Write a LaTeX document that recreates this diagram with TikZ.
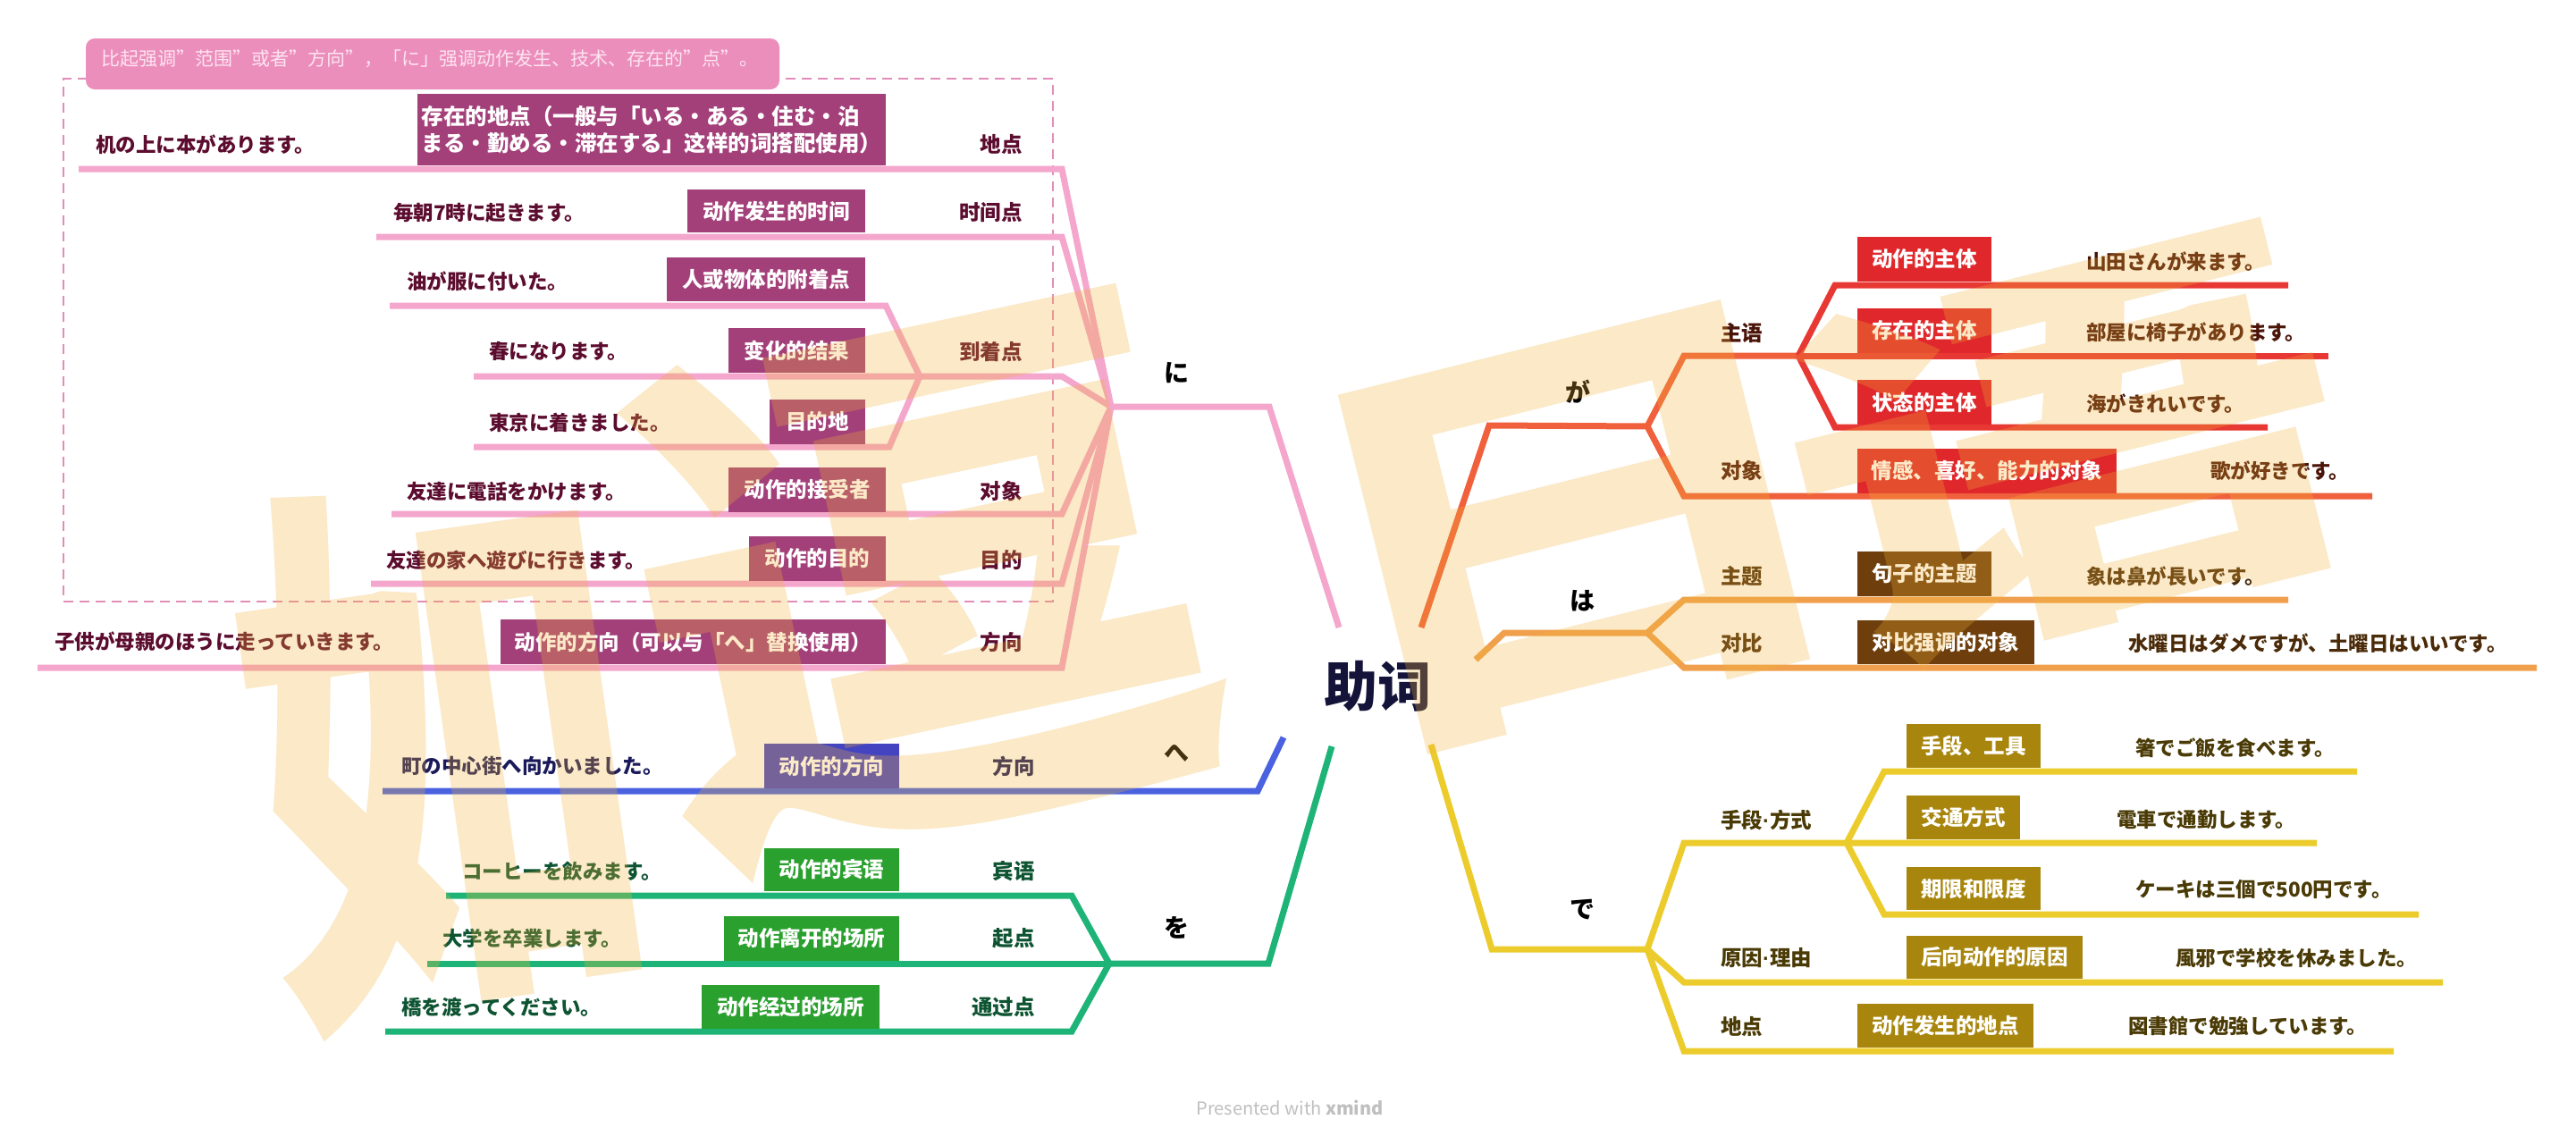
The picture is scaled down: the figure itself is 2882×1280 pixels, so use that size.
\documentclass[tikz,border=0pt]{standalone}
\usepackage{fontspec}
\setmainfont{Noto Sans CJK SC}
\newfontfamily\latinf{Liberation Sans}
\usetikzlibrary{fit}
\definecolor{niline}{RGB}{244,166,204}
\definecolor{nibox}{RGB}{163,64,122}
\definecolor{nitext}{RGB}{92,12,46}
\definecolor{nidash}{RGB}{226,140,184}
\definecolor{nicall}{RGB}{236,142,188}
\definecolor{nicalltext}{RGB}{252,228,240}
\definecolor{heline}{RGB}{74,98,224}
\definecolor{hebox}{RGB}{68,68,192}
\definecolor{hetext}{RGB}{26,26,90}
\definecolor{woline}{RGB}{30,180,120}
\definecolor{wobox}{RGB}{42,160,46}
\definecolor{wotext}{RGB}{14,84,50}
\definecolor{galine}{RGB}{240,96,60}
\definecolor{garow}{RGB}{232,56,52}
\definecolor{gabox}{RGB}{224,40,44}
\definecolor{gatext}{RGB}{74,20,8}
\definecolor{haline}{RGB}{240,160,76}
\definecolor{habox}{RGB}{110,62,12}
\definecolor{hatext}{RGB}{74,42,8}
\definecolor{deline}{RGB}{236,204,44}
\definecolor{debox}{RGB}{168,134,14}
\definecolor{detext}{RGB}{74,58,5}
\definecolor{wmc}{RGB}{241,178,55}
\definecolor{topicc}{RGB}{20,20,58}
\tikzset{
  rowline/.style={line width=7pt, line join=miter, draw=#1},
  bx/.style={fill=#1, inner sep=0pt, text=white, font=\bfseries\fontsize{23.5}{28}\selectfont},
  ex/.style={anchor=west, inner sep=0pt, text=#1, font=\bfseries\fontsize{22.5}{27}\selectfont},
  labl/.style={anchor=east, inner sep=0pt, text=#1, font=\bfseries\fontsize{23.5}{28}\selectfont},
  labr/.style={anchor=west, inner sep=0pt, text=#1, font=\bfseries\fontsize{23.5}{28}\selectfont},
  part/.style={inner sep=0pt, text=black, font=\bfseries\fontsize{28}{32}\selectfont},
  wmk/.style={inner sep=0pt, text=wmc, opacity=0.28, font=\bfseries\fontsize{#1}{#1}\selectfont},
}
% \mybox{name}{colour}{x1}{y1}{x2}{y2}{text}
\newcommand\mybox[7]{\node[bx=#2, minimum width={(#5-#3)*1pt}, minimum height={(#6-#4)*1pt}] (#1) at ({(#3+#5)/2},{(#4+#6)/2}) {#7};}
\newcommand\mdot{{\latinf\bfseries ·}}
\begin{document}
\begin{tikzpicture}[x=1pt,y=-1pt]
\useasboundingbox (0,0) rectangle (2882,1280);
\fill[white] (0,0) rectangle (2882,1280);

% ---------- central topic
\node[inner sep=0pt, text=topicc, font=\bfseries\fontsize{60}{64}\selectfont] (center) at (1541,768) {助词};

% ---------- に branch
\coordinate (Jni) at (1243,455);
\coordinate (niE) at (1420,455);
\coordinate (niS) at (1498,702);
\draw[rowline=niline] (niS) -- (niE) -- (Jni);
\node[part] (ni) at (1316,417) {に};

\node[draw=nidash, line width=2pt, dash pattern=on 11pt off 7pt, inner sep=0pt, fit={(71,88) (1178,673)}] (nigroup) {};
\fill[nicall, rounded corners=10pt] (96,43) rectangle (872,100);
\fill[nicall] (96,70) rectangle (872,89);
\node[anchor=west, inner sep=0pt, text=nicalltext, font=\fontsize{21}{25}\selectfont] (callout) at (113,66) {比起强调”范围”或者”方向”，「に」强调动作发生、技术、存在的”点”。};

% row 1
\coordinate (r1L) at (88,189); \coordinate (r1R) at (1188,189);
\draw[rowline=niline] (r1L) -- (r1R) -- (Jni);
\node[bx=nibox, minimum width=524pt, minimum height=80pt, align=left, font=\bfseries\fontsize{24.5}{30}\selectfont] (r1b) at (729,145) {存在的地点（一般与「いる・ある・住む・泊\\まる・勤める・滞在する」这样的词搭配使用）};
\node[ex=nitext] (r1e) at (107,162) {机の上に本があります。};
\node[labl=nitext] (r1l) at (1144,162) {地点};
% row 2
\coordinate (r2L) at (421,265); \coordinate (r2R) at (1188,265);
\draw[rowline=niline] (r2L) -- (r2R) -- (Jni);
\mybox{r2b}{nibox}{769}{212}{968}{260}{动作发生的时间}
\node[ex=nitext] (r2e) at (440,238) {毎朝7時に起きます。};
\node[labl=nitext] (r2l) at (1144,238) {时间点};
% row 3 (到着点)
\coordinate (r3L) at (530,421); \coordinate (r3R) at (1188,421); \coordinate (JD) at (1029,421);
\draw[rowline=niline] (r3L) -- (r3R) -- (Jni);
\mybox{r3b}{nibox}{815}{367}{968}{417}{变化的结果}
\node[ex=nitext] (r3e) at (547,393) {春になります。};
\node[labl=nitext] (r3l) at (1144,393) {到着点};
\coordinate (r3aL) at (436,342); \coordinate (r3aR) at (991,342);
\draw[rowline=niline] (r3aL) -- (r3aR) -- (JD);
\mybox{r3ab}{nibox}{746}{288}{968}{337}{人或物体的附着点}
\node[ex=nitext] (r3ae) at (455,315) {油が服に付いた。};
\coordinate (r3cL) at (530,500); \coordinate (r3cR) at (995,500);
\draw[rowline=niline] (r3cL) -- (r3cR) -- (JD);
\mybox{r3cb}{nibox}{861}{447}{968}{497}{目的地}
\node[ex=nitext] (r3ce) at (547,473) {東京に着きました。};
% row 4
\coordinate (r4L) at (438,575); \coordinate (r4R) at (1188,575);
\draw[rowline=niline] (r4L) -- (r4R) -- (Jni);
\mybox{r4b}{nibox}{815}{523}{991}{573}{动作的接受者}
\node[ex=nitext] (r4e) at (455,550) {友達に電話をかけます。};
\node[labl=nitext] (r4l) at (1144,550) {对象};
% row 5
\coordinate (r5L) at (415,653); \coordinate (r5R) at (1188,653);
\draw[rowline=niline] (r5L) -- (r5R) -- (Jni);
\mybox{r5b}{nibox}{838}{600}{991}{650}{动作的目的}
\node[ex=nitext] (r5e) at (432,627) {友達の家へ遊びに行きます。};
\node[labl=nitext] (r5l) at (1144,627) {目的};
% row 6
\coordinate (r6L) at (42,747); \coordinate (r6R) at (1188,747);
\draw[rowline=niline] (r6L) -- (r6R) -- (Jni);
\mybox{r6b}{nibox}{560}{693}{991}{743}{动作的方向（可以与「へ」替换使用）}
\node[ex=nitext] (r6e) at (61,718) {子供が母親のほうに走っていきます。};
\node[labl=nitext] (r6l) at (1144,718) {方向};

% ---------- へ branch
\coordinate (heS) at (1436,825); \coordinate (heE) at (1407,885); \coordinate (heL) at (428,885);
\draw[rowline=heline] (heS) -- (heE) -- (heL);
\node[part] (he) at (1316,843) {へ};
\mybox{hb}{hebox}{855}{832}{1006}{882}{动作的方向}
\node[ex=hetext] (hex) at (449,857) {町の中心街へ向かいました。};
\node[labl=hetext] (hl) at (1158,857) {方向};

% ---------- を branch
\coordinate (woS) at (1490,835); \coordinate (woE) at (1419,1078); \coordinate (Jwo) at (1241,1078);
\draw[rowline=woline] (woS) -- (woE) -- (Jwo);
\node[part] (wo) at (1316,1038) {を};
\coordinate (w1L) at (499,1002); \coordinate (w1R) at (1199,1002);
\draw[rowline=woline] (w1L) -- (w1R) -- (Jwo);
\mybox{w1b}{wobox}{855}{949}{1006}{997}{动作的宾语}
\node[ex=wotext] (w1e) at (517,975) {コーヒーを飲みます。};
\node[labl=wotext] (w1l) at (1158,975) {宾语};
\coordinate (w2L) at (478,1078);
\draw[rowline=woline] (w2L) -- (Jwo);
\mybox{w2b}{wobox}{810}{1025}{1006}{1075}{动作离开的场所}
\node[ex=wotext] (w2e) at (495,1050) {大学を卒業します。};
\node[labl=wotext] (w2l) at (1158,1050) {起点};
\coordinate (w3L) at (431,1154); \coordinate (w3R) at (1199,1154);
\draw[rowline=woline] (w3L) -- (w3R) -- (Jwo);
\mybox{w3b}{wobox}{785}{1102}{984}{1151}{动作经过的场所}
\node[ex=wotext] (w3e) at (449,1127) {橋を渡ってください。};
\node[labl=wotext] (w3l) at (1158,1127) {通过点};

% ---------- が branch
\coordinate (gaS) at (1590,702); \coordinate (gaE) at (1666,476); \coordinate (Jga) at (1843,477);
\draw[rowline=galine] (gaS) -- (gaE) -- (Jga);
\node[part] (ga) at (1765,438) {が};
\coordinate (zhuA) at (1884,398); \coordinate (Jzhu) at (2012,398); \coordinate (g2R) at (2605,398);
\draw[rowline=galine] (Jga) -- (zhuA) -- (Jzhu);
\draw[rowline=garow] (Jzhu) -- (g2R);
\node[labr=gatext] (zhul) at (1925,372) {主语};
\coordinate (g1A) at (2053,319); \coordinate (g1R) at (2560,319);
\draw[rowline=garow] (Jzhu) -- (g1A) -- (g1R);
\mybox{g1b}{gabox}{2078}{265}{2228}{315}{动作的主体}
\node[ex=gatext] (g1e) at (2334,293) {山田さんが来ます。};
\mybox{g2b}{gabox}{2078}{345}{2228}{395}{存在的主体}
\node[ex=gatext] (g2e) at (2334,372) {部屋に椅子があります。};
\coordinate (g3A) at (2053,478); \coordinate (g3R) at (2537,478);
\draw[rowline=garow] (Jzhu) -- (g3A) -- (g3R);
\mybox{g3b}{gabox}{2078}{425}{2228}{475}{状态的主体}
\node[ex=gatext] (g3e) at (2334,452) {海がきれいです。};
\coordinate (g4A) at (1884,555); \coordinate (g4R) at (2654,555);
\draw[rowline=galine] (Jga) -- (g4A) -- (g4R);
\node[labr=gatext] (g4l) at (1925,527) {对象};
\mybox{g4b}{gabox}{2078}{502}{2368}{552}{情感、喜好、能力的对象}
\node[ex=gatext] (g4e) at (2473,527) {歌が好きです。};

% ---------- は branch
\coordinate (haS) at (1651,738); \coordinate (haE) at (1683,708); \coordinate (Jha) at (1843,708);
\draw[rowline=haline] (haS) -- (haE) -- (Jha);
\node[part] (ha) at (1770,672) {は};
\coordinate (h1A) at (1884,671); \coordinate (h1R) at (2560,671);
\draw[rowline=haline] (Jha) -- (h1A) -- (h1R);
\node[labr=hatext] (h1l) at (1925,645) {主题};
\mybox{h1b}{habox}{2078}{617}{2228}{667}{句子的主题}
\node[ex=hatext] (h1e) at (2334,645) {象は鼻が長いです。};
\coordinate (h2A) at (1884,747); \coordinate (h2R) at (2838,747);
\draw[rowline=haline] (Jha) -- (h2A) -- (h2R);
\node[labr=hatext] (h2l) at (1925,720) {对比};
\mybox{h2b}{habox}{2078}{694}{2276}{743}{对比强调的对象}
\node[ex=hatext] (h2e) at (2381,720) {水曜日はダメですが、土曜日はいいです。};

% ---------- で branch
\coordinate (deS) at (1601,833); \coordinate (deE) at (1669,1062); \coordinate (Jde) at (1843,1062);
\draw[rowline=deline] (deS) -- (deE) -- (Jde);
\node[part] (de) at (1770,1018) {で};
\coordinate (d0A) at (1884,943); \coordinate (Jshou) at (2066,943); \coordinate (d2R) at (2592,943);
\draw[rowline=deline] (Jde) -- (d0A) -- (Jshou) -- (d2R);
\node[labr=detext] (d0l) at (1925,917) {手段\mdot 方式};
\coordinate (d1A) at (2108,863); \coordinate (d1R) at (2637,863);
\draw[rowline=deline] (Jshou) -- (d1A) -- (d1R);
\mybox{d1b}{debox}{2133}{810}{2283}{859}{手段、工具}
\node[ex=detext] (d1e) at (2389,837) {箸でご飯を食べます。};
\mybox{d2b}{debox}{2133}{890}{2260}{939}{交通方式}
\node[ex=detext] (d2e) at (2368,917) {電車で通勤します。};
\coordinate (d3A) at (2108,1023); \coordinate (d3R) at (2706,1023);
\draw[rowline=deline] (Jshou) -- (d3A) -- (d3R);
\mybox{d3b}{debox}{2133}{970}{2283}{1018}{期限和限度}
\node[ex=detext] (d3e) at (2389,995) {ケーキは三個で500円です。};
\coordinate (d4A) at (1884,1099); \coordinate (d4R) at (2733,1099);
\draw[rowline=deline] (Jde) -- (d4A) -- (d4R);
\node[labr=detext] (d4l) at (1925,1072) {原因\mdot 理由};
\mybox{d4b}{debox}{2133}{1047}{2330}{1095}{后向动作的原因}
\node[ex=detext] (d4e) at (2434,1072) {風邪で学校を休みました。};
\coordinate (d5A) at (1884,1176); \coordinate (d5R) at (2678,1176);
\draw[rowline=deline] (Jde) -- (d5A) -- (d5R);
\node[labr=detext] (d5l) at (1925,1148) {地点};
\mybox{d5b}{debox}{2078}{1123}{2275}{1172}{动作发生的地点}
\node[ex=detext] (d5e) at (2381,1148) {図書館で勉強しています。};

% ---------- footer
\node[inner sep=0pt, text=black!25, font=\fontsize{20}{24}\selectfont] (footer) at (1443,1239) {Presented with \textbf{xmind}};

% ---------- watermark
\node[wmk=460, rotate=8, xscale=0.95, yscale=1.4] (wm1) at (490,840) {如};
\node[wmk=500, rotate=12, xscale=1.3, yscale=1.25] (wm2) at (1030,650) {逗};
\node[wmk=470, rotate=14, xscale=1.3, yscale=1.0] (wm3) at (1760,590) {日};
\node[wmk=460, rotate=14, xscale=1.35, yscale=0.95] (wm4) at (2310,500) {语};
\end{tikzpicture}
\end{document}
